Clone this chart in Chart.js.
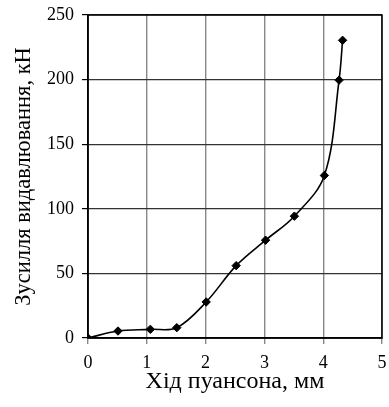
<!DOCTYPE html>
<html>
<head>
<meta charset="utf-8">
<script src="https://cdn.jsdelivr.net/npm/chart.js@4"></script>
<style>
  html, body { margin: 0; padding: 0; background: #fff; }
  #wrap { width: 389px; height: 407px; }
</style>
</head>
<body>
<div id="wrap"><canvas id="myChart" width="389" height="407"></canvas></div>
<script>
// хід пуансона, мм / зусилля, кН
const stroke = [0, 0.51, 1.06, 1.51, 2.01, 2.52, 3.02, 3.51, 4.02, 4.27, 4.33];
const force = [0, 5.4, 6.7, 8.0, 27.9, 56, 75.7, 94.3, 125.8, 199.6, 230.4];
const xTitle = 'Хід пуансона, мм';
const yTitle = 'Зусилля видавлювання, кН';

const serif = "'Liberation Serif', serif";
Chart.defaults.font.family = serif;
Chart.defaults.font.size = 17;
Chart.defaults.color = '#000';

const createChart = function () {
	const points = stroke.map((x, i) => ({ x: x, y: force[i] }));

	const config = {
		type: 'scatter',
		data: {
			datasets: [
				{
					data: points,
					showLine: true,
					tension: 0.35,
					borderColor: '#000',
					borderWidth: 1.6,
					backgroundColor: '#000',
					pointStyle: 'rectRot',
					pointRadius: 4.2,
					pointBorderWidth: 1,
				},
			],
		},
		options: {
			responsive: false,
			animation: false,
			layout: { padding: { top: 15, right: 7, left: 0, bottom: 0 } },
			plugins: {
				legend: { display: false },
				tooltip: { enabled: false },
			},
			scales: {
				x: {
					type: 'linear',
					min: 0,
					max: 5,
					ticks: {
						stepSize: 1,
						color: '#000',
						padding: 8,
						font: { size: 18 },
					},
					grid: {
						color: '#888',
						lineWidth: 1.4,
						tickLength: 6,
						tickColor: '#888',
					},
					border: { color: '#000', width: 1.5 },
					title: {
						display: true,
						text: xTitle,
						color: '#000',
						font: { size: 24 },
						padding: { top: 0, bottom: 11 },
					},
					afterFit: function (scale) {
						scale.height = 69;
						scale.paddingLeft = 0;
						scale.paddingRight = 0;
					},
				},
				y: {
					min: 0,
					max: 250,
					ticks: {
						stepSize: 50,
						color: '#000',
						padding: 8,
						font: { size: 18 },
					},
					grid: {
						color: '#333',
						lineWidth: 1.2,
						tickLength: 6,
						tickColor: '#000',
					},
					border: { color: '#000', width: 1.5 },
					title: {
						display: true,
						text: yTitle,
						color: '#000',
						font: { size: 22.5 },
						padding: { top: 11, bottom: 0 },
					},
					afterFit: function (scale) {
						scale.width = 88;
						scale.paddingTop = 0;
						scale.paddingBottom = 0;
					},
				},
			},
		},
		plugins: [
			{
				// рамка навколо області побудови
				id: 'frame',
				afterDraw: function (chart) {
					const a = chart.chartArea;
					const ctx = chart.ctx;
					ctx.save();
					ctx.strokeStyle = '#000';
					ctx.lineWidth = 1.5;
					ctx.strokeRect(a.left, a.top, a.right - a.left, a.bottom - a.top);
					ctx.restore();
				},
			},
		],
	};

	const ctx = document.getElementById('myChart');
	const myChart = new Chart(ctx, config);
};

const init = function () {
	createChart();
};
document.addEventListener('DOMContentLoaded', init);
</script>
</body>
</html>
